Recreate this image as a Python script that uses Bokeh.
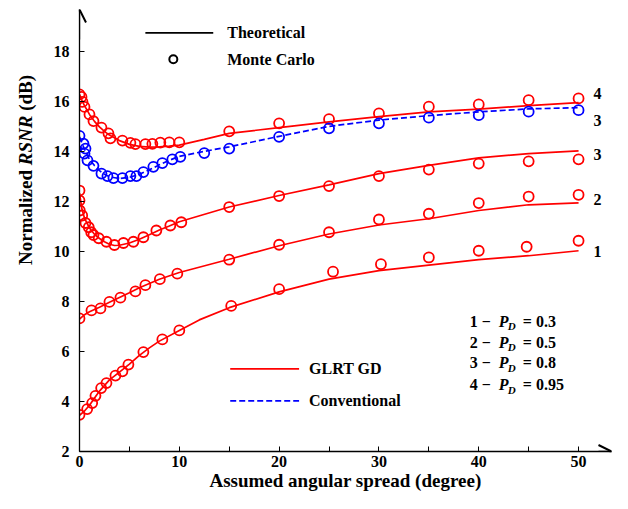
import math
from bokeh.plotting import figure
from bokeh.layouts import row
from bokeh.models import Range1d, FixedTicker, Arrow, OpenHead
from bokeh.core.properties import value
from bokeh.embed import file_html
from bokeh.resources import INLINE

FONT = "Liberation Serif"
RED = "#ff0000"
BLUE = "#0000ff"

# ---------------- data ----------------
# Theoretical curves (GLRT GD, red)
th4_x = [0, 0.25, 0.5, 1, 1.5, 2, 2.5, 3, 4, 5, 6, 7, 8, 9, 10, 12.5, 15, 20, 25, 30, 35, 40, 45, 50]
th4_y = [16.3, 16.05, 15.85, 15.5, 15.22, 15.0, 14.82, 14.67, 14.45, 14.3, 14.22, 14.19, 14.2, 14.23,
         14.27, 14.5, 14.74, 14.97, 15.2, 15.41, 15.6, 15.71, 15.85, 15.97]

th3_x = [0, 0.25, 0.5, 1, 1.5, 2, 2.5, 3, 3.5, 4, 5, 6, 7, 8, 9, 10, 15, 20, 25, 30, 35, 40, 45, 50]
th3_y = [12.35, 11.7, 11.35, 10.95, 10.7, 10.53, 10.4, 10.3, 10.25, 10.26, 10.35, 10.5, 10.68, 10.87,
         11.03, 11.2, 11.79, 12.25, 12.68, 13.13, 13.46, 13.76, 13.93, 14.04]

th2_x = [0, 0.5, 1, 2, 3, 4, 5, 6, 7, 8, 10, 15, 20, 25, 30, 35, 40, 45, 50]
th2_y = [7.3, 7.48, 7.6, 7.78, 7.98, 8.17, 8.36, 8.56, 8.73, 8.9, 9.17, 9.7, 10.24, 10.71, 11.07,
         11.32, 11.65, 11.88, 11.96]

th1_x = [0, 0.5, 1, 2, 3, 4, 5, 6, 7, 8, 10, 12, 15, 20, 25, 30, 35, 40, 45, 50]
th1_y = [3.45, 3.62, 3.85, 4.42, 4.87, 5.18, 5.5, 5.85, 6.15, 6.42, 6.85, 7.27, 7.76, 8.39, 8.9,
         9.24, 9.46, 9.68, 9.84, 10.04]

# Theoretical curve (Conventional, blue dashed, P_D = 0.8)
thc_x = [0, 0.25, 0.5, 1, 1.5, 2, 2.5, 3, 4, 5, 6, 7, 8, 9, 10, 12.5, 15, 20, 25, 30, 35, 40, 45, 50]
thc_y = [14.6, 14.35, 14.1, 13.7, 13.45, 13.25, 13.1, 13.0, 12.93, 12.98, 13.1, 13.28, 13.48, 13.66,
         13.82, 14.02, 14.2, 14.62, 15.02, 15.27, 15.45, 15.6, 15.72, 15.77]

# Monte Carlo points
mc4_x = [0, 0.2, 0.3, 0.5, 1.0, 1.4, 2.2, 2.9, 3.1, 4.3, 5.1, 5.6, 6.6, 7.3, 8.1, 9.0, 10.0,
         15, 20, 25, 30, 35, 40, 45, 50]
mc4_y = [16.3, 16.2, 16.0, 15.8, 15.5, 15.23, 14.97, 14.74, 14.54, 14.45, 14.36, 14.31, 14.31,
         14.32, 14.37, 14.38, 14.38, 14.82, 15.14, 15.31, 15.54, 15.81, 15.9, 16.07, 16.14]

mc3_x = [0, 0, 0.03, 0.27, 0.6, 0.93, 1.17, 1.4, 1.93, 2.7, 3.5, 4.4, 5.4, 6.4, 7.7, 9.1, 10.2,
         15, 20, 25, 30, 35, 40, 45, 50]
mc3_y = [12.45, 12.05, 11.65, 11.45, 11.15, 10.98, 10.78, 10.67, 10.54, 10.40, 10.27, 10.35,
         10.40, 10.58, 10.85, 11.05, 11.18, 11.79, 12.23, 12.63, 13.03, 13.29, 13.53, 13.62, 13.70]

mc2_x = [0, 1.2, 2.1, 3.0, 4.1, 5.6, 6.6, 8.05, 9.8, 15, 20, 25, 30, 35, 40, 45, 50]
mc2_y = [7.33, 7.65, 7.73, 7.99, 8.16, 8.41, 8.66, 8.90, 9.12, 9.68, 10.28, 10.78, 11.29, 11.52,
         11.95, 12.21, 12.28]

mc1_x = [0, 0.77, 1.27, 1.6, 2.17, 2.7, 3.6, 4.3, 4.9, 6.4, 8.3, 10, 15.2, 20, 25.4, 30.2, 35,
         40, 44.8, 50]
mc1_y = [3.47, 3.70, 3.94, 4.23, 4.54, 4.74, 5.04, 5.21, 5.48, 5.98, 6.49, 6.85, 7.83, 8.5, 9.2,
         9.5, 9.77, 10.04, 10.2, 10.44]

mcc_x = [0, 0.4, 0.6, 0.5, 0.8, 1.4, 2.2, 2.8, 3.4, 4.3, 5.1, 5.7, 6.4, 7.4, 8.3, 9.3, 10.1,
         12.5, 15, 20, 25, 30, 35, 40, 45, 50]
mcc_y = [14.64, 14.33, 14.13, 13.93, 13.66, 13.44, 13.13, 13.03, 12.95, 12.95, 13.03, 13.03,
         13.19, 13.4, 13.55, 13.7, 13.8, 13.95, 14.13, 14.6, 14.94, 15.14, 15.37, 15.47, 15.61, 15.67]

x_ticks = [0, 10, 20, 30, 40, 50]
x_minor = [5, 15, 25, 35, 45]
y_ticks = [2, 4, 6, 8, 10, 12, 14, 16, 18]

curve_labels = ["4", "3", "3", "2", "1"]
pd_numbers = ["1", "2", "3", "4"]
pd_values = ["0.3", "0.5", "0.8", "0.95"]

y_label_parts = ["Normalized", "RSNR", "(dB)"]
y_label_styles = ["bold", "bold italic", "bold"]

TOTAL_W, TOTAL_H = 612, 493
LAB_W = 45

# ---------------- y label panel ----------------
ylab = figure(width=LAB_W, height=TOTAL_H, x_range=Range1d(0, LAB_W), y_range=Range1d(TOTAL_H, 0),
              x_axis_type=None, y_axis_type=None, output_backend="svg", toolbar_location=None,
              min_border=0)
ylab.grid.visible = False
ylab.outline_line_color = None
# centres (px from top) of the rotated pieces, laid out bottom-to-top
part_centres = [232, 146, 93]
for txt, style, cy in zip(y_label_parts, y_label_styles, part_centres):
    ylab.text([25], [cy], text=[txt], angle=math.pi / 2,
              text_font=value(FONT), text_font_style=style, text_font_size="19px",
              text_color="black", text_align="center", text_baseline="middle")

# ---------------- main figure ----------------
p = figure(width=TOTAL_W - LAB_W, height=TOTAL_H, x_range=Range1d(0, 53.3), y_range=Range1d(2, 19.7),
           output_backend="svg", toolbar_location=None,
           min_border_left=79 - LAB_W, min_border_right=1, min_border_top=9, min_border_bottom=41)
p.grid.visible = False
p.outline_line_color = None
p.background_fill_color = "white"
p.border_fill_color = "white"

for ax in (p.xaxis[0], p.yaxis[0]):
    ax.axis_line_width = 1.3
    ax.axis_line_color = "black"
    ax.major_tick_in = 5
    ax.major_tick_out = 0
    ax.major_tick_line_color = "black"
    ax.major_label_text_font = FONT
    ax.major_label_text_font_style = "bold"
    ax.major_label_text_font_size = "16px"
    ax.major_label_text_color = "black"

p.xaxis[0].ticker = FixedTicker(ticks=x_ticks, minor_ticks=x_minor)
p.xaxis[0].minor_tick_in = 5
p.xaxis[0].minor_tick_out = 0
p.xaxis[0].minor_tick_line_color = "black"
p.xaxis[0].major_label_standoff = 4
p.xaxis[0].axis_label = "Assumed angular spread (degree)"
p.xaxis[0].axis_label_text_font = FONT
p.xaxis[0].axis_label_text_font_style = "bold"
p.xaxis[0].axis_label_text_font_size = "19px"
p.xaxis[0].axis_label_text_color = "black"
p.xaxis[0].axis_label_standoff = 0

p.yaxis[0].ticker = FixedTicker(ticks=y_ticks)
p.yaxis[0].minor_tick_line_color = None
p.yaxis[0].major_label_standoff = 10

# axis arrow heads
p.add_layout(Arrow(end=OpenHead(size=13, line_width=2, line_color="black"),
                   x_start=52.0, y_start=2, x_end=53.3, y_end=2,
                   line_width=1.3, line_color="black"))
p.add_layout(Arrow(end=OpenHead(size=13, line_width=2, line_color="black"),
                   x_start=0, y_start=18.5, x_end=0, y_end=19.7,
                   line_width=1.3, line_color="black"))

# theoretical lines
for xs, ys in [(th4_x, th4_y), (th3_x, th3_y), (th2_x, th2_y), (th1_x, th1_y)]:
    p.line(xs, ys, line_color=RED, line_width=1.7)
p.line(thc_x, thc_y, line_color=BLUE, line_width=1.7, line_dash="6 3")

# Monte Carlo points
for xs, ys in [(mc4_x, mc4_y), (mc3_x, mc3_y), (mc2_x, mc2_y), (mc1_x, mc1_y)]:
    p.scatter(xs, ys, marker="circle", size=10, fill_color=None, line_color=RED, line_width=1.8)
p.scatter(mcc_x, mcc_y, marker="circle", size=10, fill_color=None, line_color=BLUE, line_width=1.8)

TXT = dict(text_font=value(FONT), text_font_style="bold", text_font_size="16px",
           text_color="black", text_baseline="middle", text_align="left")

# top legend
p.line([6.6, 13.4], [18.76, 18.76], line_color="black", line_width=1.8)
p.scatter([9.4], [17.71], marker="circle", size=8, fill_color=None, line_color="black", line_width=2)
p.text([14.8, 14.8], [18.76, 17.71], text=["Theoretical", "Monte Carlo"], **TXT)

# bottom legend
p.line([15.1, 22.0], [5.31, 5.31], line_color=RED, line_width=1.7)
p.line([15.1, 22.0], [4.03, 4.03], line_color=BLUE, line_width=1.7, line_dash="6 3")
p.text([23.0, 23.0], [5.31, 4.03], text=["GLRT GD", "Conventional"], **TXT)

# curve number labels at right end
p.text([51.5] * 5, [16.32, 15.27, 13.89, 12.09, 10.0], text=curve_labels, **TXT)

# P_D annotation block
ann_y = [7.22, 6.38, 5.55, 4.68]
x0 = 39.1
p.text([x0] * 4, ann_y, text=[n + " \u2212" for n in pd_numbers], **TXT)
TXT_I = dict(TXT)
TXT_I["text_font_style"] = "bold italic"
p.text([x0] * 4, ann_y, text=["P"] * 4, x_offset=29, **TXT_I)
TXT_S = dict(TXT_I)
TXT_S["text_font_size"] = "11px"
p.text([x0] * 4, ann_y, text=["D"] * 4, x_offset=38, y_offset=5, **TXT_S)
p.text([x0] * 4, ann_y, text=["= " + v for v in pd_values], x_offset=53, **TXT)

layout = row(ylab, p, spacing=0)
open("out.html", "w").write(file_html(layout, INLINE))
